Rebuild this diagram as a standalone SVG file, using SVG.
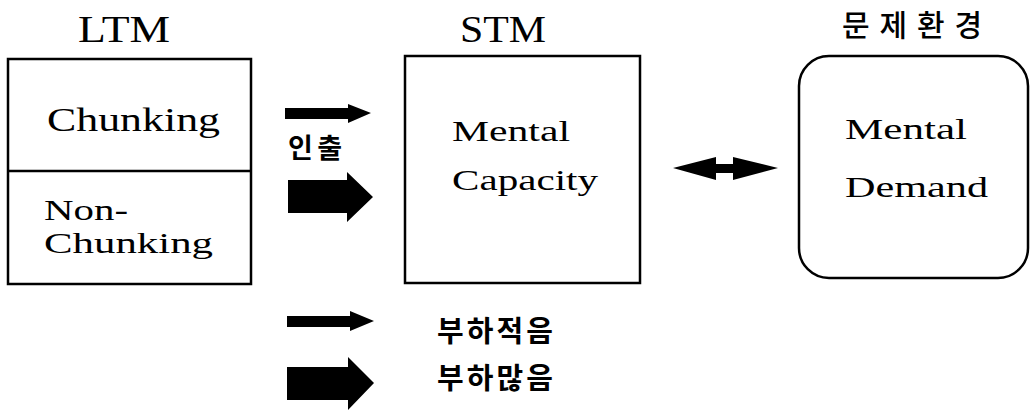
<svg xmlns="http://www.w3.org/2000/svg" width="1035" height="411" viewBox="0 0 1035 411">
<style>
.box{fill:none;stroke:#000;stroke-width:2.5}
.lat{font-family:"Liberation Serif",serif;fill:#000}
.kr{font-family:"Noto Sans CJK KR",sans-serif;fill:#000}
.arr{fill:#000}
</style>
<rect width="1035" height="411" fill="#fff"/>
<g id="ltm">
<text class="lat" x="78" y="42" font-size="37" textLength="92" lengthAdjust="spacingAndGlyphs">LTM</text>
<rect class="box" x="8" y="59" width="243" height="225"/>
<line class="box" x1="8" y1="171" x2="251" y2="171"/>
<text class="lat" x="47" y="131" font-size="33" textLength="173" lengthAdjust="spacingAndGlyphs">Chunking</text>
<text class="lat" x="44" y="220" font-size="29" textLength="84" lengthAdjust="spacingAndGlyphs">Non-</text>
<text class="lat" x="44" y="253" font-size="29" textLength="169" lengthAdjust="spacingAndGlyphs">Chunking</text>
</g>
<g id="stm">
<text class="lat" x="460" y="42" font-size="37" textLength="86" lengthAdjust="spacingAndGlyphs">STM</text>
<rect class="box" x="405" y="56" width="235" height="227"/>
<text class="lat" x="452" y="141" font-size="29" textLength="118" lengthAdjust="spacingAndGlyphs">Mental</text>
<text class="lat" x="452" y="190" font-size="29" textLength="146" lengthAdjust="spacingAndGlyphs">Capacity</text>
</g>
<g id="env">
<text class="kr" x="842" y="36" font-size="30" font-weight="500" textLength="140" lengthAdjust="spacing">문제환경</text>
<rect class="box" x="799" y="56" width="229" height="222" rx="30" ry="30"/>
<text class="lat" x="845" y="139" font-size="29" textLength="122" lengthAdjust="spacingAndGlyphs">Mental</text>
<text class="lat" x="845" y="197" font-size="29" textLength="143" lengthAdjust="spacingAndGlyphs">Demand</text>
</g>
<g id="connectors">
<polygon class="arr" points="285,108 348,108 348,104 371,113 348,123 348,119 285,119"/>
<text class="kr" x="288" y="158" font-size="27" font-weight="bold" textLength="54" lengthAdjust="spacing">인출</text>
<polygon class="arr" points="288,180 347,180 347,172 373,197 347,222 347,213 288,213"/>
<polygon class="arr" points="673,168 716,157 716,164 733,164 733,157 778,168 733,180 733,173 716,173 716,180"/>
</g>
<g id="legend">
<polygon class="arr" points="287,316 350,316 350,311 374,321 350,331 350,327 287,327"/>
<text class="kr" x="437" y="342" font-size="29" font-weight="bold" textLength="116" lengthAdjust="spacing">부하적음</text>
<polygon class="arr" points="287,367 348,367 348,357 374,383 348,410 348,400 287,400"/>
<text class="kr" x="437" y="389" font-size="29" font-weight="bold" textLength="116" lengthAdjust="spacing">부하많음</text>
</g>
</svg>
